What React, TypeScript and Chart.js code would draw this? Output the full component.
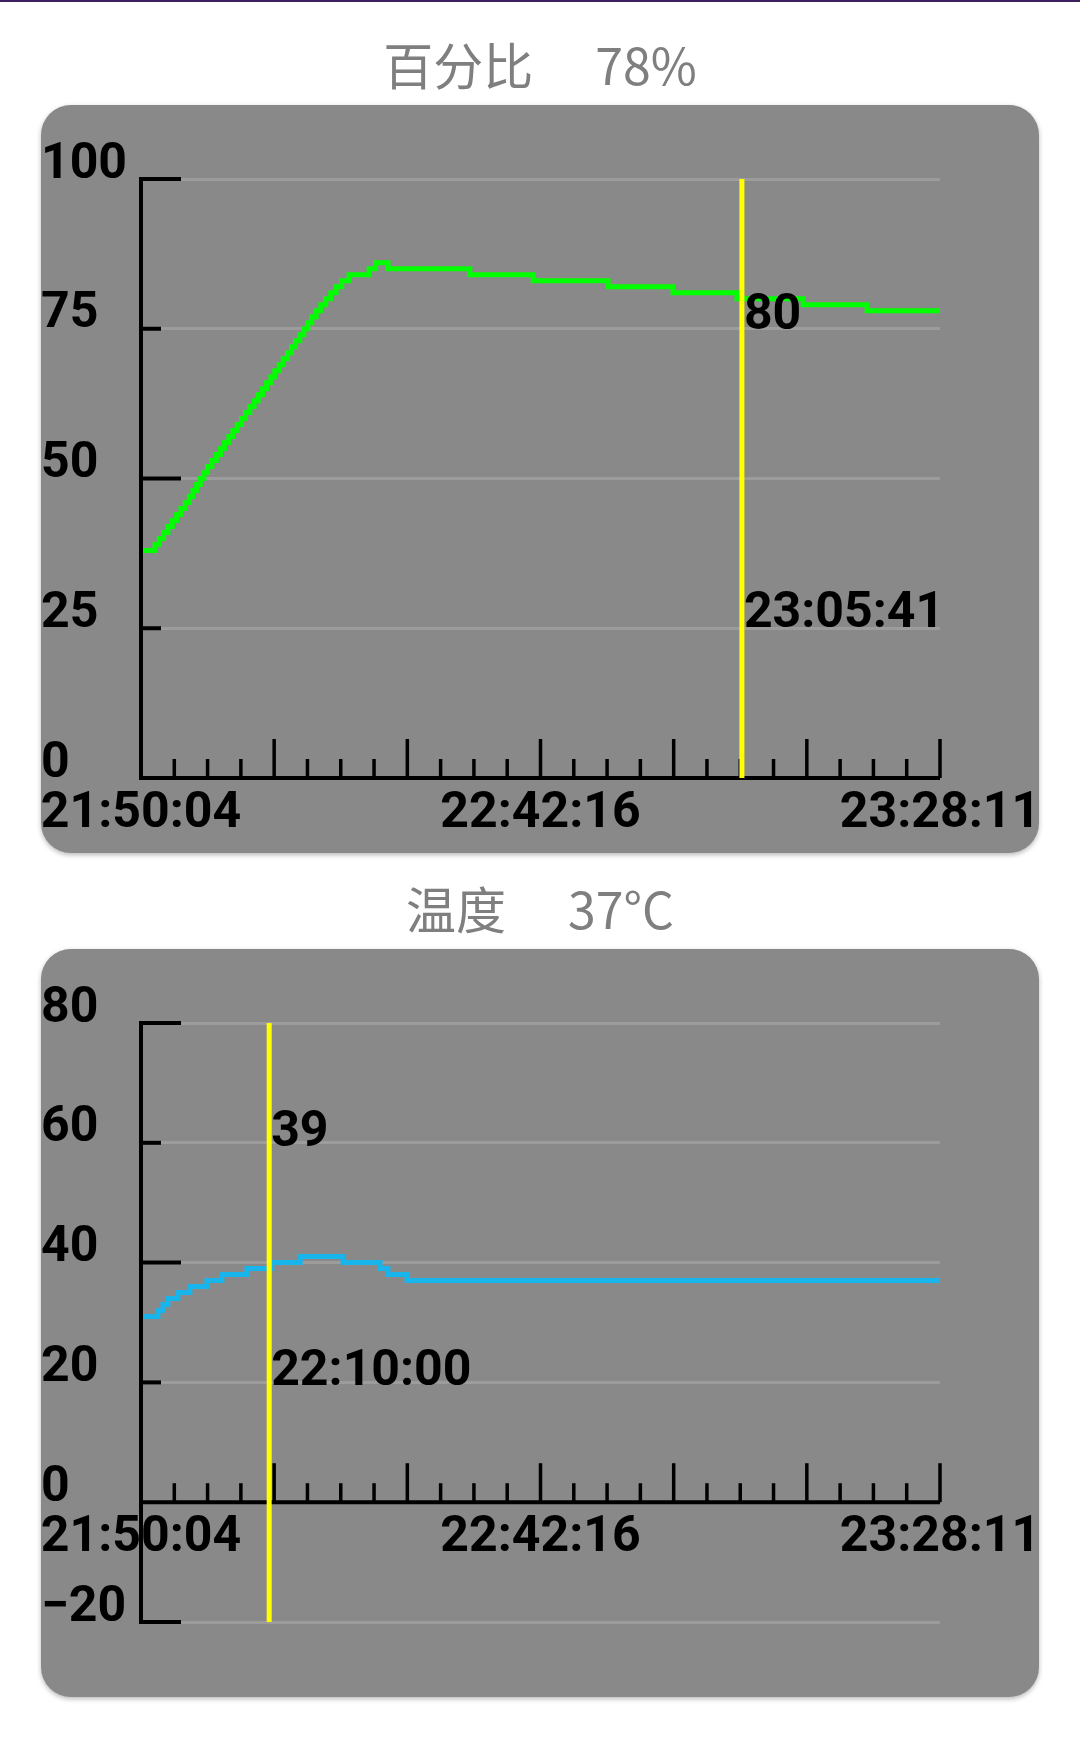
import { useEffect, useRef } from 'react'
import { Chart, registerables } from 'chart.js'

Chart.register(...registerables)

// x axis works on sample index (0..24), only three time labels are printed
const timeTickIndex = [0, 12, 24]
const timeTickLabels = ['21:50:04', '22:42:16', '23:28:11']

const percentSampleIndex = [
  0, 0.42, 0.55, 0.68, 0.81, 0.94, 1.07, 1.2, 1.33, 1.45, 1.56, 1.67, 1.78, 1.89, 2.0, 2.13, 2.26, 2.39,
  2.51, 2.64, 2.76, 2.89, 3.02, 3.14, 3.27, 3.4, 3.52, 3.65, 3.77, 3.9, 4.02, 4.15, 4.27, 4.4, 4.52, 4.64,
  4.77, 4.89, 5.01, 5.13, 5.26, 5.4, 5.55, 5.7, 5.86, 6.03, 6.25, 6.85, 7.05, 7.42, 9.88, 11.78, 14.03,
  15.98, 17.9, 19.89, 21.81, 24,
]
const percentValues = [
  38, 39, 40, 41, 42, 43, 44, 45, 46, 47, 48, 49, 50, 51, 52, 53, 54, 55, 56, 57, 58, 59, 60, 61, 62, 63,
  64, 65, 66, 67, 68, 69, 70, 71, 72, 73, 74, 75, 76, 77, 78, 79, 80, 81, 82, 83, 84, 85, 86, 85, 84, 83,
  82, 81, 80, 79, 78, 78,
]
const percentCursorIndex = 18.05
const percentCursorValue = '80'
const percentCursorTime = '23:05:41'

const tempSampleIndex = [0, 0.51, 0.66, 0.81, 1.11, 1.47, 1.98, 2.43, 3.18, 3.93, 4.78, 6.07, 7.18, 7.42, 7.99, 24]
const tempValues = [31, 32, 33, 34, 35, 36, 37, 38, 39, 40, 41, 40, 39, 38, 37, 37]
const tempCursorIndex = 3.85
const tempCursorValue = '39'
const tempCursorTime = '22:10:00'

const AXIS_FONT = { family: 'Roboto', size: 50, weight: 'bold' as const }

type TrendProps = {
  top: number
  sampleIndex: number[]
  values: number[]
  color: string
  yMin: number
  yMax: number
  yStep: number
  cursorIndex: number
  cursorValue: string
  cursorTime: string
  axisAtZero: boolean
}

function TrendCard(props: TrendProps) {
  const canvasRef = useRef<HTMLCanvasElement>(null)
  const chartRef = useRef<Chart | null>(null)

  useEffect(() => {
    if (!canvasRef.current) return
    const ctx = canvasRef.current.getContext('2d')
    if (!ctx) return

    const axisPlugin = {
      id: 'blackAxes',
      afterDatasetsDraw(chart: any) {
        const { ctx: c, chartArea, scales } = chart
        const xs = scales.x
        const ys = scales.y
        const zeroY = ys.getPixelForValue(0)
        c.save()
        c.strokeStyle = '#000'
        c.lineWidth = 4
        c.beginPath()
        c.moveTo(chartArea.left, chartArea.top - 2)
        c.lineTo(chartArea.left, chartArea.bottom + 2)
        c.stroke()
        const n = ys.ticks.length
        ys.ticks.forEach((t: any, i: number) => {
          if (t.value === 0) return
          const fromTop = n - 1 - i
          const long = i === 0 || fromTop % 2 === 0
          const py = ys.getPixelForValue(t.value)
          c.beginPath()
          c.moveTo(chartArea.left, py)
          c.lineTo(chartArea.left + (long ? 40 : 20), py)
          c.stroke()
        })
        c.beginPath()
        c.moveTo(chartArea.left - 2, zeroY)
        c.lineTo(chartArea.right, zeroY)
        c.stroke()
        c.lineWidth = 3.5
        xs.ticks.forEach((t: any) => {
          const px = xs.getPixelForValue(t.value)
          const len = t.value % 4 === 0 ? 39 : 19
          c.beginPath()
          c.moveTo(px, zeroY)
          c.lineTo(px, zeroY - len)
          c.stroke()
        })
        c.restore()
      },
    }

    const cursorPlugin = {
      id: 'cursorLine',
      afterDraw(chart: any) {
        const { ctx: c, chartArea, scales } = chart
        const px = scales.x.getPixelForValue(props.cursorIndex)
        const zeroY = scales.y.getPixelForValue(0)
        const span = zeroY - chartArea.top
        c.save()
        c.strokeStyle = '#ffff00'
        c.lineWidth = 5
        c.beginPath()
        c.moveTo(px, chartArea.top)
        c.lineTo(px, chartArea.bottom)
        c.stroke()
        c.fillStyle = '#000'
        c.font = 'bold 50px Roboto'
        c.textAlign = 'left'
        c.textBaseline = 'middle'
        c.fillText(props.cursorValue, px + 2, chartArea.top + span * 0.219 + 6)
        c.fillText(props.cursorTime, px + 2, chartArea.top + span * 0.718 + 5)
        c.restore()
      },
    }

    chartRef.current = new Chart(ctx, {
      type: 'line',
      data: {
        datasets: [
          {
            data: props.sampleIndex.map((x, i) => ({ x, y: props.values[i] })),
            borderColor: props.color,
            borderWidth: 5,
            pointRadius: 0,
            stepped: true,
            fill: false,
            borderCapStyle: 'butt',
            borderJoinStyle: 'miter',
          },
        ],
      },
      options: {
        responsive: true,
        maintainAspectRatio: false,
        animation: false,
        events: [],
        layout: { padding: { left: 0, right: 99, top: 74, bottom: props.axisAtZero ? 75 : 0 } },
        plugins: { legend: { display: false }, tooltip: { enabled: false } },
        scales: {
          x: {
            type: 'linear',
            position: props.axisAtZero ? { y: 0 } : 'bottom',
            min: 0,
            max: 24,
            afterFit(scale: any) {
              scale.height = props.axisAtZero ? 0 : 75
              scale.paddingLeft = 0
              scale.paddingRight = 0
            },
            grid: { display: false, drawTicks: false },
            border: { display: false },
            ticks: {
              stepSize: 1,
              autoSkip: false,
              maxRotation: 0,
              minRotation: 0,
              padding: 6,
              color: '#000',
              font: AXIS_FONT,
              callback(value: any) {
                const k = timeTickIndex.indexOf(Number(value))
                return k >= 0 ? timeTickLabels[k] : ''
              },
            },
          },
          y: {
            type: 'linear',
            min: props.yMin,
            max: props.yMax,
            afterFit(scale: any) {
              scale.width = 100
              scale.paddingTop = 0
              scale.paddingBottom = 0
            },
            grid: { color: '#9c9c9c', lineWidth: 3, drawTicks: false },
            border: { display: false },
            ticks: {
              stepSize: props.yStep,
              crossAlign: 'far',
              labelOffset: -14,
              color: '#000',
              font: AXIS_FONT,
              callback(value: any) {
                return String(value).replace('-', '\u2212')
              },
            },
          },
        },
      } as any,
      plugins: [axisPlugin, cursorPlugin],
    })

    return () => {
      if (chartRef.current) {
        chartRef.current.destroy()
        chartRef.current = null
      }
    }
  }, [props])

  return (
    <div
      style={{
        position: 'absolute',
        left: 41,
        top: props.top,
        width: 998,
        height: 748,
        background: '#898989',
        borderRadius: 30,
        boxShadow: '0 2px 5px rgba(0,0,0,0.28)',
        overflow: 'hidden',
      }}
    >
      <div style={{ position: 'relative', width: 998, height: 748 }}>
        <canvas ref={canvasRef} />
      </div>
    </div>
  )
}

function Title({ top, name, reading }: { top: number; name: string; reading: string }) {
  return (
    <div
      style={{
        position: 'absolute',
        left: 0,
        top,
        width: 1080,
        textAlign: 'center',
        fontFamily: '"Noto Sans CJK SC", "Noto Sans", sans-serif',
        fontSize: 50,
        lineHeight: '50px',
        color: '#7f7f7f',
        whiteSpace: 'nowrap',
      }}
    >
      <span>{name}</span>
      <span style={{ marginLeft: 62 }}>{reading}</span>
    </div>
  )
}

const percentProps: TrendProps = {
  top: 105,
  sampleIndex: percentSampleIndex,
  values: percentValues,
  color: '#00ff00',
  yMin: 0,
  yMax: 100,
  yStep: 25,
  cursorIndex: percentCursorIndex,
  cursorValue: percentCursorValue,
  cursorTime: percentCursorTime,
  axisAtZero: false,
}

const tempProps: TrendProps = {
  top: 949,
  sampleIndex: tempSampleIndex,
  values: tempValues,
  color: '#18b4ec',
  yMin: -20,
  yMax: 80,
  yStep: 20,
  cursorIndex: tempCursorIndex,
  cursorValue: tempCursorValue,
  cursorTime: tempCursorTime,
  axisAtZero: true,
}

export default function App() {
  useEffect(() => {
    document.body.style.margin = '0'
  }, [])

  return (
    <div style={{ position: 'relative', width: 1080, height: 1742, background: '#fff', overflow: 'hidden' }}>
      <div style={{ position: 'absolute', left: 0, top: 0, width: 1080, height: 2, background: '#3b1f5e' }} />
      <Title top={38} name="百分比" reading="78%" />
      <TrendCard {...percentProps} />
      <Title top={882} name="温度" reading="37°C" />
      <TrendCard {...tempProps} />
    </div>
  )
}
